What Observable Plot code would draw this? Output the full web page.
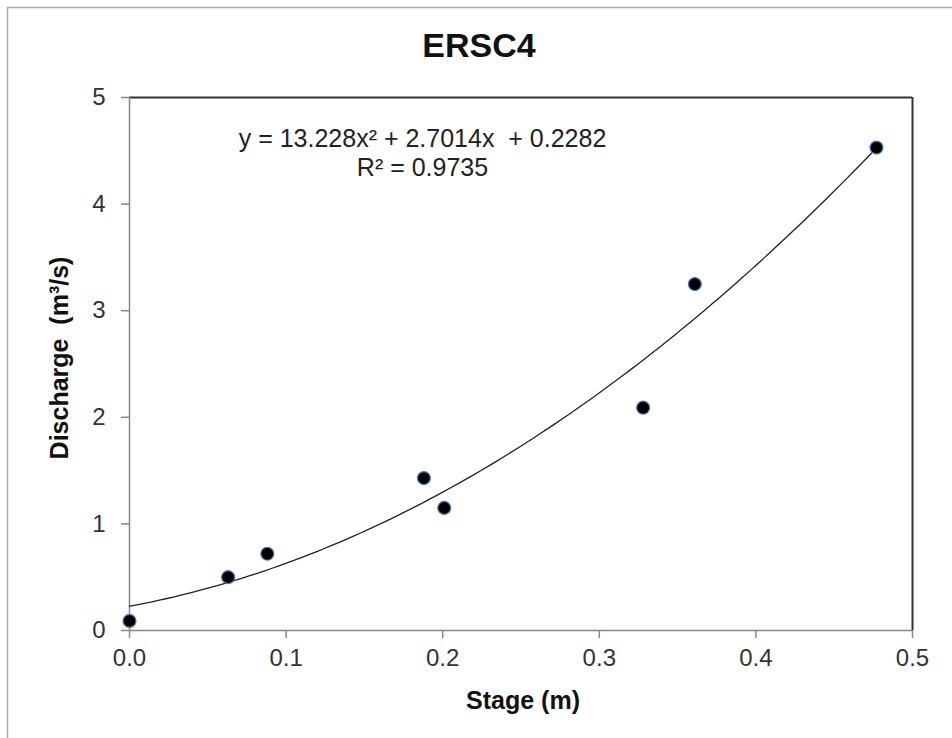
<!DOCTYPE html>
<html>
<head>
<meta charset="utf-8">
<script src="https://cdn.jsdelivr.net/npm/d3@7"></script>
<script src="https://cdn.jsdelivr.net/npm/@observablehq/plot@0.6"></script>
<style>
  html, body { margin: 0; padding: 0; background: #fff; }
  svg { display: block; }
</style>
</head>
<body>
<div id="chart"></div>
<script>
const stage = [0.0, 0.063, 0.088, 0.188, 0.201, 0.328, 0.361, 0.477];
const discharge = [0.09, 0.50, 0.72, 1.43, 1.15, 2.09, 3.25, 4.53];
const xTicks = [0, 0.1, 0.2, 0.3, 0.4, 0.5];
const yTicks = [0, 1, 2, 3, 4, 5];
const coef = [13.228, 2.7014, 0.2282]; // trendline y = a x^2 + b x + c
const trendRange = [0, 0.477];

const points = stage.map((s, i) => ({x: s, y: discharge[i]}));
const trend = d3.range(0, 101).map(i => {
  const x = trendRange[0] + (trendRange[1] - trendRange[0]) * i / 100;
  return {x, y: coef[0] * x * x + coef[1] * x + coef[2]};
});

const font = "Liberation Sans, Arial, sans-serif";

const chart = Plot.plot({
  width: 952,
  height: 738,
  marginLeft: 129,
  marginRight: 40,
  marginTop: 97,
  marginBottom: 108,
  style: {fontFamily: font, fontSize: "24px", color: "#222", background: "#fff", overflow: "visible"},
  x: {domain: [0, 0.5], label: null},
  y: {domain: [0, 5], label: null},
  marks: [
    Plot.axisX({ticks: xTicks, tickFormat: d3.format(".1f"), tickSize: 8, tickPadding: 10, stroke: "#888", strokeWidth: 1.5, fill: "#333", fontSize: 24}),
    Plot.axisY({ticks: yTicks, tickFormat: d3.format("d"), tickSize: 8, tickPadding: 16, stroke: "#888", strokeWidth: 1.5, fill: "#333", fontSize: 24}),
    Plot.ruleY([5], {stroke: "#333", strokeWidth: 2}),
    Plot.ruleX([0.5], {stroke: "#333", strokeWidth: 2}),
    Plot.ruleY([0], {stroke: "#888", strokeWidth: 1.5}),
    Plot.ruleX([0], {stroke: "#888", strokeWidth: 1.5}),
    Plot.line(trend, {x: "x", y: "y", stroke: "#222", strokeWidth: 1.3}),
    Plot.dot(points, {x: "x", y: "y", r: 6.5, fill: "#000", stroke: "#4a7fc1", strokeWidth: 1.2}),
    Plot.text(["y = 13.228x² + 2.7014x  + 0.2282"], {frameAnchor: "top-left", dx: 293, dy: 41, text: d => d, fontSize: 25, fill: "#222", textAnchor: "middle", lineAnchor: "middle"}),
    Plot.text(["R² = 0.9735"], {frameAnchor: "top-left", dx: 293, dy: 70, text: d => d, fontSize: 25, fill: "#222", textAnchor: "middle", lineAnchor: "middle"})
  ]
});

const svg = d3.select(chart);
// outer chart frame (only left/top edges visible in the picture)
svg.insert("rect", ":first-child")
  .attr("x", 7.5).attr("y", 7.5).attr("width", 980).attr("height", 780)
  .attr("fill", "none").attr("stroke", "#aaa").attr("stroke-width", 1.5);
svg.append("text")
  .attr("x", 479).attr("y", 57)
  .attr("text-anchor", "middle")
  .attr("font-family", font).attr("font-weight", "bold").attr("font-size", 34).attr("fill", "#111")
  .text("ERSC4");
svg.append("text")
  .attr("x", 523).attr("y", 709)
  .attr("text-anchor", "middle")
  .attr("font-family", font).attr("font-weight", "bold").attr("font-size", 25).attr("fill", "#111")
  .text("Stage (m)");
svg.append("text")
  .attr("transform", "translate(68,358) rotate(-90)")
  .attr("text-anchor", "middle")
  .attr("font-family", font).attr("font-weight", "bold").attr("font-size", 25).attr("fill", "#111")
  .text("Discharge  (m³/s)");

document.getElementById("chart").appendChild(chart);
</script>
</body>
</html>
